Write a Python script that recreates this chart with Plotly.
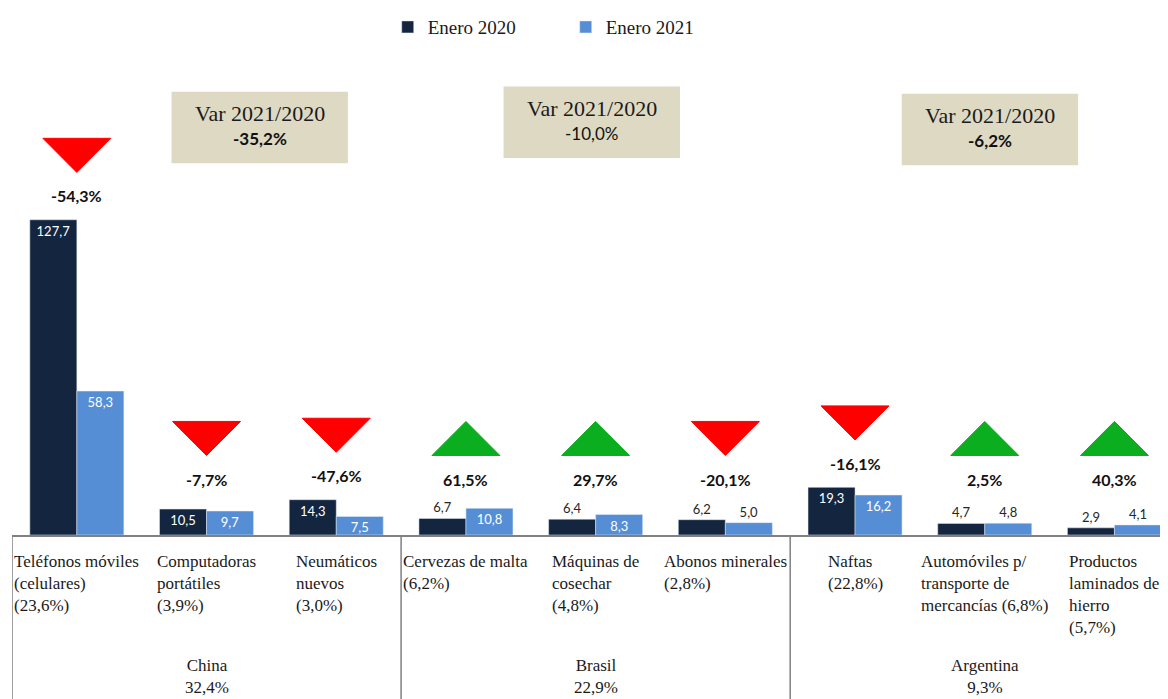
import plotly.graph_objects as go

# ---------------- data ----------------
categories = [
    "Teléfonos móviles<br>(celulares)<br>(23,6%)",
    "Computadoras<br>portátiles<br>(3,9%)",
    "Neumáticos<br>nuevos<br>(3,0%)",
    "Cervezas de malta<br>(6,2%)",
    "Máquinas de<br>cosechar<br>(4,8%)",
    "Abonos minerales<br>(2,8%)",
    "Naftas<br>(22,8%)",
    "Automóviles p/<br>transporte de<br>mercancías (6,8%)",
    "Productos<br>laminados de<br>hierro<br>(5,7%)",
]
enero_2020 = [127.7, 10.5, 14.3, 6.7, 6.4, 6.2, 19.3, 4.7, 2.9]
enero_2021 = [58.3, 9.7, 7.5, 10.8, 8.3, 5.0, 16.2, 4.8, 4.1]
variacion = [-54.3, -7.7, -47.6, 61.5, 29.7, -20.1, -16.1, 2.5, 40.3]

groups = ["China<br>32,4%", "Brasil<br>22,9%", "Argentina<br>9,3%"]
group_var = ["-35,2%", "-10,0%", "-6,2%"]
group_var_bold = [True, False, True]

# ---------------- style / layout constants ----------------
DARK = "#13253F"
LIGHT = "#558ED5"
RED = "#FF0000"
GREEN = "#0AAE1E"
BOX = "#DDD9C3"
SERIF = "Liberation Serif"
SANS = "Lato"

n = len(categories)
x = list(range(n))
pos20 = ["inside" if v >= 7 else "outside" for v in enero_2020]
pos21 = ["inside" if v >= 7 else "outside" for v in enero_2021]

fig = go.Figure()
for vals, pos, name, col in [(enero_2020, pos20, "Enero 2020", DARK),
                             (enero_2021, pos21, "Enero 2021", LIGHT)]:
    fig.add_trace(go.Bar(
        x=x, y=vals, name=name, marker_color=col,
        texttemplate="%{y:.1f}", textposition=pos, insidetextanchor="end",
        insidetextfont=dict(color="white", family=SANS, size=13),
        outsidetextfont=dict(color="#262626", family=SANS, size=13),
        constraintext="none", cliponaxis=False,
    ))

shapes = []
annotations = []

# triangles + variation labels
HW = 0.262
TH = 13.8
for i in range(n):
    top = max(46, max(enero_2020[i], enero_2021[i]) + 33)
    bottom = top - TH
    if variacion[i] < 0:
        path = f"M {i-HW},{top} L {i+HW},{top} L {i},{bottom} Z"
        col = RED
    else:
        path = f"M {i-HW},{bottom} L {i+HW},{bottom} L {i},{top} Z"
        col = GREEN
    shapes.append(dict(type="path", path=path, xref="x", yref="y",
                       fillcolor=col, line=dict(color=col, width=1)))
    annotations.append(dict(
        x=i, y=bottom, xref="x", yref="y", yanchor="top", yshift=-12,
        text=f"<b>{variacion[i]:.1f}%</b>".replace(".", ","), showarrow=False,
        font=dict(family=SANS, size=16, color="#111111")))

# category labels below axis
for i, c in enumerate(categories):
    annotations.append(dict(
        x=i, y=0, xref="x", yref="paper", yanchor="top", xanchor="center",
        yshift=-15, align="left", text=c, showarrow=False,
        font=dict(family=SERIF, size=17, color="#1a1a1a")))

# group labels and separators
for g, name in enumerate(groups):
    annotations.append(dict(
        x=3 * g + 1, y=-0.262, xref="x", yref="paper", yanchor="top",
        yshift=4, text=name, showarrow=False,
        font=dict(family=SERIF, size=17, color="#1a1a1a")))
    shapes.append(dict(type="line", xref="x", yref="paper",
                       x0=3 * g - 0.5, x1=3 * g - 0.5, y0=0, y1=-0.36,
                       line=dict(color="#808080", width=1.5)))

# Var boxes
box_centers = [(1.41, 165.1), (3.97, 167.2), (7.04, 164.3)]
BW, BH = 0.68, 14.5
for (cx, cy), gv, bold in zip(box_centers, group_var, group_var_bold):
    shapes.append(dict(type="rect", xref="x", yref="y",
                       x0=cx - BW, x1=cx + BW, y0=cy - BH, y1=cy + BH,
                       fillcolor=BOX, line=dict(width=0), layer="below"))
    annotations.append(dict(x=cx, y=cy, xref="x", yref="y", yshift=14,
                            text="Var 2021/2020", showarrow=False,
                            font=dict(family=SERIF, size=22, color="#1a1a1a")))
    annotations.append(dict(x=cx, y=cy, xref="x", yref="y", yshift=-11,
                            text=f"<b>{gv}</b>" if bold else gv, showarrow=False,
                            font=dict(family=SANS, size=17, color="#111111")))

# page body adds an 8px margin; figure is sized to compensate
fig.update_layout(
    width=1160, height=691,
    margin=dict(l=4, r=0, t=58, b=164),
    plot_bgcolor="white", paper_bgcolor="white",
    barmode="group", bargap=0.275, bargroupgap=0,
    separators=",.",
    xaxis=dict(range=[-0.5, 8.413], showticklabels=False, showgrid=False,
               zeroline=False, showline=True, linecolor="#808080", linewidth=1.5,
               ticks=""),
    yaxis=dict(range=[0, 190], visible=False),
    legend=dict(orientation="h", x=0.479, xanchor="center", y=1.083,
                yanchor="middle", font=dict(family=SERIF, size=19, color="#1a1a1a"),
                entrywidth=133, itemwidth=30),
    shapes=shapes, annotations=annotations,
    showlegend=True,
)

fig.write_html("out.html")
